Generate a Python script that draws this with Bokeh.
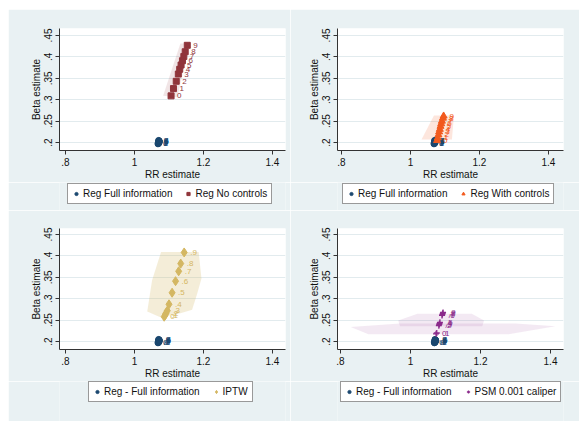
from bokeh.plotting import figure
from bokeh.layouts import column, row
from bokeh.models import Legend, LegendItem, FixedTicker, Range1d
from bokeh.core.properties import value
from bokeh.embed import file_html
from bokeh.resources import INLINE

# ---------------- data ----------------
x_ticks = [0.8, 1.0, 1.2, 1.4]
x_tick_labels = [".8", "1", "1.2", "1.4"]
y_ticks = [0.2, 0.25, 0.3, 0.35, 0.4, 0.45]
y_tick_labels = [".2", ".25", ".3", ".35", ".4", ".45"]

int_labels = ["0", "1", "2", "3", "4", "5", "6", "7", "8", "9"]
dec_labels = ["0", ".1", ".2", ".3", ".4", ".5", ".6", ".7", ".8", ".9"]

# Reg Full information (benchmark)
ref_x = [1.068, 1.069, 1.070, 1.069, 1.071, 1.070, 1.072, 1.071, 1.070, 1.072]
ref_y = [0.197, 0.199, 0.198, 0.201, 0.200, 0.203, 0.202, 0.204, 0.205, 0.203]

# Reg No controls
nc_x = [1.106, 1.113, 1.121, 1.127, 1.131, 1.135, 1.139, 1.143, 1.147, 1.153]
nc_y = [0.309, 0.326, 0.343, 0.360, 0.371, 0.381, 0.391, 0.401, 0.412, 0.427]
nc_area_x = [1.083, 1.133, 1.160, 1.124]
nc_area_y = [0.309, 0.431, 0.431, 0.306]

# Reg With controls
wc_x = [1.077, 1.079, 1.081, 1.083, 1.085, 1.087, 1.089, 1.091, 1.094, 1.096]
wc_y = [0.205, 0.211, 0.218, 0.225, 0.231, 0.238, 0.244, 0.250, 0.257, 0.262]
wc_area_x = [1.032, 1.068, 1.126, 1.120]
wc_area_y = [0.207, 0.263, 0.263, 0.207]

# IPTW
ip_x = [1.086, 1.089, 1.091, 1.095, 1.100, 1.109, 1.119, 1.128, 1.134, 1.144]
ip_y = [0.258, 0.262, 0.266, 0.272, 0.287, 0.314, 0.341, 0.364, 0.382, 0.408]
ip_area_x = [1.077, 1.186, 1.194, 1.182, 1.167, 1.133, 1.075, 1.037, 1.051]
ip_area_y = [0.409, 0.409, 0.347, 0.313, 0.274, 0.266, 0.257, 0.270, 0.343]

# PSM 0.001 caliper
ps_x = [1.073, 1.075, 1.081, 1.082, 1.083, 1.084, 1.090, 1.091, 1.092, 1.093]
ps_y = [0.218, 0.220, 0.237, 0.240, 0.242, 0.245, 0.261, 0.263, 0.266, 0.268]
ps_area1_x = [0.829, 0.97, 1.30, 1.414, 1.28, 0.88]
ps_area1_y = [0.234, 0.242, 0.242, 0.236, 0.217, 0.217]
ps_area2_x = [0.97, 0.965, 1.02, 1.175, 1.21, 1.205]
ps_area2_y = [0.236, 0.249, 0.265, 0.265, 0.249, 0.236]

# ---------------- style ----------------
BG = "#E9F1F3"
FONT = "Liberation Sans"
NAVY = "#1A476F"
MAROON = "#90353B"
ORANGE = "#F25A1E"
GOLD = "#D4B762"
PURPLE = "#8B2A8B"
LEG_H = 19

# column geometry (left column / right column)
W_L, BL_L, BR_L = 282, 51, 5
W_R, BL_R, BR_R = 289, 47, 16


def make_panel(w, h, xr, yr, mbl, mbr, mbt, mbb):
    p = figure(width=w, height=h, x_range=Range1d(*xr), y_range=Range1d(*yr),
               output_backend="svg", toolbar_location=None,
               min_border_left=mbl, min_border_right=mbr,
               min_border_top=mbt, min_border_bottom=mbb,
               background_fill_color="white", border_fill_color=BG,
               outline_line_color=None)
    p.xaxis.ticker = FixedTicker(ticks=x_ticks)
    p.xaxis.major_label_overrides = dict(zip(x_ticks, x_tick_labels))
    p.yaxis.ticker = FixedTicker(ticks=y_ticks)
    p.yaxis.major_label_overrides = dict(zip(y_ticks, y_tick_labels))
    p.yaxis.major_label_orientation = "vertical"
    p.xaxis.axis_label = "RR estimate"
    p.yaxis.axis_label = "Beta estimate"
    for ax in (p.xaxis, p.yaxis):
        ax.axis_label_text_font = FONT
        ax.axis_label_text_font_size = "10px"
        ax.axis_label_text_font_style = "normal"
        ax.axis_label_text_color = "#111111"
        ax.axis_label_standoff = 0
        ax.major_label_text_font = FONT
        ax.major_label_text_font_size = "10px"
        ax.major_label_text_color = "#111111"
        ax.major_label_standoff = 3
        ax.major_tick_out = 4
        ax.major_tick_in = 0
        ax.minor_tick_out = 0
        ax.minor_tick_in = 0
        ax.axis_line_color = "#333333"
        ax.major_tick_line_color = "#333333"
    p.xgrid.grid_line_color = None
    p.ygrid.grid_line_color = "#E2EBEE"
    p.ygrid.grid_line_width = 1
    return p


def draw_marker(fig, x, y, marker, color, size):
    if marker == "cross":
        return fig.scatter(x, y, marker=marker, size=size, line_color=color,
                           line_width=1.3)
    return fig.scatter(x, y, marker=marker, size=size, fill_color=color,
                       line_color=color)


def add_series(p, areas, area_color, area_alpha, sx, sy, slabels, marker, color, size,
               ref_labels):
    p.patches(xs=[a[0] for a in areas], ys=[a[1] for a in areas],
              fill_color=area_color, fill_alpha=area_alpha, line_color=None)
    draw_marker(p, ref_x, ref_y, "circle", NAVY, 6)
    p.text(x=ref_x, y=ref_y, text=ref_labels, x_offset=5, text_baseline="middle",
           text_font=value(FONT), text_font_size="8px", text_color=NAVY)
    draw_marker(p, sx, sy, marker, color, size)
    p.text(x=sx, y=sy, text=slabels, x_offset=6, text_baseline="middle",
           text_font=value(FONT), text_font_size="8px", text_color=color)


def legend_fig(w, h, mbl, mbr, lx, ltop, name_ref, name_ser, sx, sy, marker, color, size):
    # legend strip; the series are drawn outside its visible range (x > 1)
    f = figure(width=w, height=h, x_range=Range1d(0, 0.5), y_range=Range1d(0, 1),
               x_axis_type=None, y_axis_type=None, toolbar_location=None,
               output_backend="svg", min_border_left=mbl, min_border_right=mbr,
               min_border_top=0, min_border_bottom=0,
               border_fill_color=BG, background_fill_color=BG,
               outline_line_color=None)
    r1 = draw_marker(f, ref_x, ref_y, "circle", NAVY, 7)
    r2 = draw_marker(f, sx, sy, marker, color, size + 1)
    leg = Legend(items=[LegendItem(label=name_ref, renderers=[r1]),
                        LegendItem(label=name_ser, renderers=[r2])],
                 orientation="horizontal", location=(lx, h - ltop - LEG_H),
                 label_text_font=FONT, label_text_font_size="10px",
                 label_text_color="#111111",
                 glyph_width=8, glyph_height=11, label_height=11,
                 label_standoff=3, spacing=12, padding=4, margin=0,
                 border_line_color="#333333", border_line_width=1,
                 background_fill_color="white", background_fill_alpha=1.0)
    f.add_layout(leg, "center")
    return f


YR_TOP = (0.1815, 0.4662)
YR_BOT = (0.1815, 0.4639)

p1 = make_panel(W_L, 173, (0.7826, 1.4377), YR_TOP, BL_L, BR_L, 19, 31)
add_series(p1, [(nc_area_x, nc_area_y)], MAROON, 0.13, nc_x, nc_y, int_labels,
           "square", MAROON, 6, int_labels)
l1 = legend_fig(W_L, 28, BL_L, BR_L, 8, 3, "Reg Full information", "Reg No controls",
                nc_x, nc_y, "square", MAROON, 6)

p2 = make_panel(W_R, 173, (0.7884, 1.4435), YR_TOP, BL_R, BR_R, 19, 31)
add_series(p2, [(wc_area_x, wc_area_y)], ORANGE, 0.15, wc_x, wc_y, int_labels,
           "triangle", ORANGE, 7, int_labels)
l2 = legend_fig(W_R, 28, BL_R, BR_R, 5, 3, "Reg Full information", "Reg With controls",
                wc_x, wc_y, "triangle", ORANGE, 7)

p3 = make_panel(W_L, 171, (0.7826, 1.4377), YR_BOT, BL_L, BR_L, 18, 31)
add_series(p3, [(ip_area_x, ip_area_y)], GOLD, 0.25, ip_x, ip_y, dec_labels,
           "diamond", GOLD, 9, dec_labels)
l3 = legend_fig(W_L, 40, BL_L, BR_L, 29, 2, "Reg - Full information", "IPTW",
                ip_x, ip_y, "diamond", GOLD, 9)

p4 = make_panel(W_R, 171, (0.7914, 1.4371), YR_BOT, BL_R, BR_R, 18, 31)
add_series(p4, [(ps_area1_x, ps_area1_y), (ps_area2_x, ps_area2_y)], PURPLE, 0.10,
           ps_x, ps_y, dec_labels, "cross", PURPLE, 6, dec_labels)
l4 = legend_fig(W_R, 40, BL_R, BR_R, 3, 2, "Reg - Full information", "PSM 0.001 caliper",
                ps_x, ps_y, "cross", PURPLE, 6)

layout = column(
    row(column(p1, l1), column(p2, l2)),
    row(column(p3, l3), column(p4, l4)),
    margin=(9, 0, 0, 8),
)

open("out.html", "w").write(file_html(layout, INLINE))
